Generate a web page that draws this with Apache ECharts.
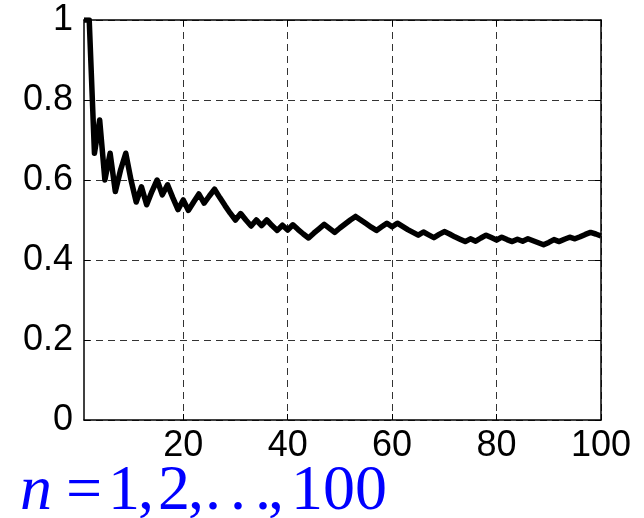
<!DOCTYPE html>
<html>
<head>
<meta charset="utf-8">
<script src="https://cdn.jsdelivr.net/npm/echarts@6/dist/echarts.min.js"></script>
<style>html,body{margin:0;padding:0;background:#fff}#c{width:644px;height:518px}</style>
</head>
<body>
<div id="c"></div>
<script>
// running proportion values for n = 1..100
const proportion = [
  1, 1, 0.667, 0.75, 0.6, 0.667, 0.571, 0.625, 0.667, 0.6,
  0.545, 0.583, 0.538, 0.571, 0.6, 0.563, 0.588, 0.556, 0.526, 0.55,
  0.524, 0.545, 0.565, 0.542, 0.56, 0.577, 0.556, 0.536, 0.517, 0.5,
  0.516, 0.5, 0.485, 0.5, 0.486, 0.5, 0.486, 0.474, 0.487, 0.475,
  0.488, 0.476, 0.465, 0.455, 0.467, 0.478, 0.489, 0.479, 0.469, 0.48,
  0.49, 0.5, 0.509, 0.5, 0.491, 0.482, 0.474, 0.483, 0.492, 0.483,
  0.492, 0.484, 0.476, 0.469, 0.462, 0.47, 0.463, 0.456, 0.464, 0.471,
  0.465, 0.458, 0.452, 0.446, 0.453, 0.447, 0.455, 0.462, 0.456, 0.45,
  0.457, 0.451, 0.446, 0.452, 0.447, 0.453, 0.448, 0.443, 0.438, 0.444,
  0.451, 0.446, 0.452, 0.457, 0.453, 0.458, 0.464, 0.469, 0.465, 0.46
];
const xTicks = [20, 40, 60, 80, 100];
const yTicks = [0, 0.2, 0.4, 0.6, 0.8, 1];

const data = proportion.map((v, i) => [i + 1, v]);

const chart = echarts.init(document.getElementById('c'), null, {renderer: 'canvas'});
const gridDash = {color: '#333', width: 1, type: [7, 5]};
const labelFont = {fontFamily: 'Liberation Sans, Arial, sans-serif', fontSize: 36, color: '#000'};

const serif = 'Liberation Serif, Times New Roman, serif';
const blue = '#0000ff';
function tok(txt, x, italic) {
  return {type: 'text', x: x, y: 492, silent: true,
    style: {text: txt, fill: blue, font: (italic ? 'italic ' : '') + '64px ' + serif,
      textAlign: 'left', textVerticalAlign: 'middle', verticalAlign: 'middle'}};
}

chart.setOption({
  animation: false,
  backgroundColor: '#fff',
  grid: {left: 84, right: 43, top: 20, bottom: 98, show: false},
  xAxis: [{
    type: 'value', min: 1, max: 100,
    axisLine: {show: true, onZero: false, lineStyle: {color: '#000', width: 1.5}},
    axisTick: {show: true, inside: true, length: 6, lineStyle: {color: '#000'}, customValues: xTicks},
    axisLabel: Object.assign({margin: 8, customValues: xTicks}, labelFont),
    splitLine: {show: true, lineStyle: gridDash}
  }, {
    type: 'value', min: 1, max: 100, position: 'top',
    axisLine: {show: true, onZero: false, lineStyle: {color: '#000', width: 1.5}},
    axisTick: {show: true, inside: true, length: 6, lineStyle: {color: '#000'}, customValues: xTicks},
    axisLabel: {show: false},
    splitLine: {show: false}
  }],
  yAxis: [{
    type: 'value', min: 0, max: 1, interval: 0.2,
    axisLine: {show: true, onZero: false, lineStyle: {color: '#000', width: 1.5}},
    axisTick: {show: true, inside: true, length: 6, lineStyle: {color: '#000'}},
    axisLabel: Object.assign({margin: 11, formatter: v => String(+v.toFixed(1))}, labelFont),
    splitLine: {show: true, lineStyle: gridDash}
  }, {
    type: 'value', min: 0, max: 1, interval: 0.2, position: 'right',
    axisLine: {show: true, onZero: false, lineStyle: {color: '#000', width: 1.5}},
    axisTick: {show: true, inside: true, length: 6, lineStyle: {color: '#000'}},
    axisLabel: {show: false},
    splitLine: {show: false}
  }],
  series: [{
    type: 'line', data: data, xAxisIndex: 0, yAxisIndex: 0,
    showSymbol: false, symbol: 'none', smooth: false,
    lineStyle: {color: '#000', width: 5.5, join: 'round'},
    z: 5
  }],
  graphic: [
    tok('n', 20, true),
    tok('=', 66, false),
    tok('1', 108, false),
    tok(',', 138, false),
    tok('2', 158, false),
    tok(',', 188, false),
    tok('.', 205, false),
    tok('.', 230, false),
    tok('.', 255, false),
    tok(',', 268, false),
    tok('100', 291, false)
  ]
});
</script>
</body>
</html>
